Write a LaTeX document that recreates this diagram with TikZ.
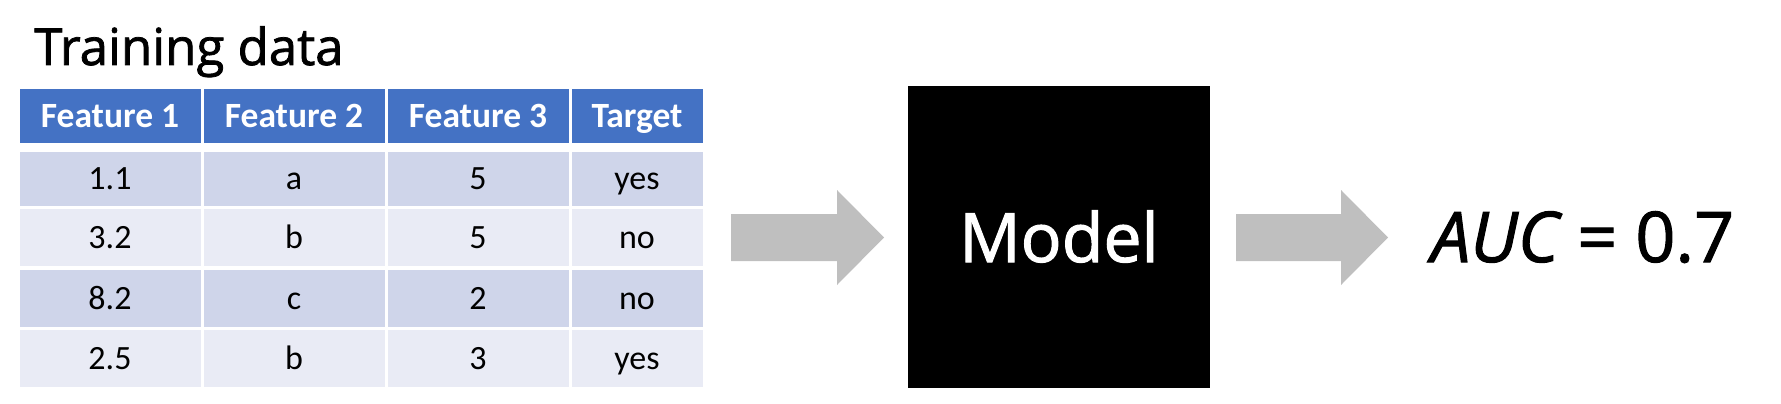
\documentclass[tikz,border=0pt]{standalone}
\usepackage{fontspec}
\setmainfont{Carlito}
\newfontfamily\handfont[FakeBold=1.5]{Open Sans}
\definecolor{hdrblue}{HTML}{4472C4}
\definecolor{rowdark}{HTML}{CFD5EA}
\definecolor{rowlight}{HTML}{E9EBF5}
\definecolor{arrowgray}{HTML}{BFBFBF}
\tikzset{
  cellbox/.style={draw=white, line width=3pt, inner sep=0pt, minimum width=#1, text height=22pt, text depth=0pt},
  hdrcell/.style={cellbox=184pt, fill=hdrblue, text=white, minimum height=57pt, font=\fontsize{35.5}{40}\selectfont\bfseries},
  bodycell/.style={cellbox=184pt, minimum height=60pt, font=\fontsize{34}{40}\selectfont},
  blockarrow/.style={fill=arrowgray, draw=none},
  handtext/.style={inner sep=0pt, font=\handfont\fontsize{#1}{#1}\selectfont}
}
\begin{document}
\begin{tikzpicture}[x=1pt, y=-1pt]
\useasboundingbox (0,0) rectangle (1781,404);
% title
\node[handtext=51, anchor=base west] (title) at (34,65) {Training data};
% header row
\node[hdrcell, minimum width=184pt] (h1) at (110,116) {Feature 1};
\node[hdrcell, minimum width=184pt] (h2) at (294,116) {Feature 2};
\node[hdrcell, minimum width=184pt] (h3) at (478,116) {Feature 3};
\node[hdrcell, minimum width=134pt] (h4) at (637,116) {Target};
% body rows
\foreach \r/\y/\c/\a/\b/\cc/\d in {1/178/rowdark/1.1/a/5/yes, 2/237.5/rowlight/3.2/b/5/no, 3/298.5/rowdark/8.2/c/2/no, 4/358.5/rowlight/2.5/b/3/yes}{
  \node[bodycell, fill=\c, minimum width=184pt] (r\r c1) at (110,\y) {\a};
  \node[bodycell, fill=\c, minimum width=184pt] (r\r c2) at (294,\y) {\b};
  \node[bodycell, fill=\c, minimum width=184pt] (r\r c3) at (478,\y) {\cc};
  \node[bodycell, fill=\c, minimum width=134pt] (r\r c4) at (637,\y) {\d};
}
\fill[white] (h1.south west) ++(-2,-1) rectangle ([xshift=2pt,yshift=-6pt]h4.south east);
% model box
\node[fill=black, minimum width=302pt, minimum height=302pt, inner sep=0pt] (model) at (1059,237) {};
\node[handtext=68, text=white, anchor=base] (modeltxt) at (1059,262) {Model};
% result
\node[handtext=70, anchor=base west] (auc) at (1431,262) {\itshape AUC\upshape{} = 0.7};
% block arrows
\fill[blockarrow] (731,214) -- (837,214) -- (837,190) -- (884,237.5) -- (837,285) -- (837,261) -- (731,261) -- cycle;
\fill[blockarrow] (1236,214) -- (1341,214) -- (1341,190) -- (1388,237.5) -- (1341,285) -- (1341,261) -- (1236,261) -- cycle;
\end{tikzpicture}
\end{document}
